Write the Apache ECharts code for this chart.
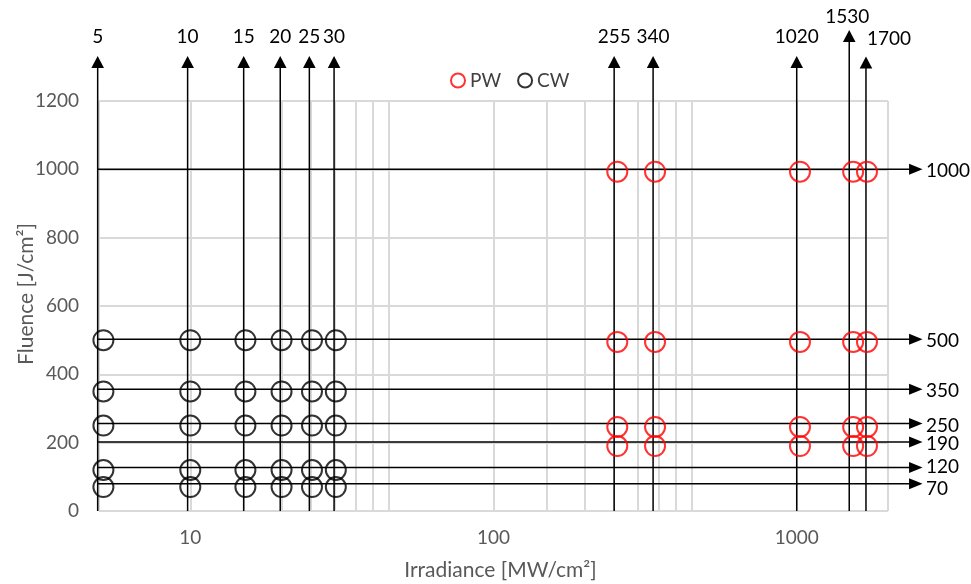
<!DOCTYPE html>
<html><head><meta charset="utf-8">
<script src="https://cdn.jsdelivr.net/npm/echarts@6/dist/echarts.min.js"></script>
<style>html,body{margin:0;padding:0;background:#fff}#c{width:971px;height:584px}</style>
</head><body><div id="c"></div>
<script>
// ---- data ----
const xTicks = [10, 100, 1000];
const yTicks = [0, 200, 400, 600, 800, 1000, 1200];
const gridX = [5, 10, 15, 20, 25, 30, 35, 40, 45, 100, 150, 200, 250, 300, 350, 400, 450, 1000, 2000];
const pwX = [256, 341, 1025, 1535, 1705];
const pwY = [993, 495, 246, 190];
const cwX = [5.17, 10, 15.2, 20, 25.2, 30.2];
const cwY = [500, 350, 250, 120, 70];
const vArrowX = [4.95, 9.8, 15, 19.8, 24.7, 29.8, 250, 336, 1000, 1490, 1692];
const vArrowTop = [1332, 1332, 1332, 1332, 1332, 1332, 1332, 1332, 1332, 1408, 1330];
const vArrowLabels = ['5', '10', '15', '20', '25', '30', '255', '340', '1020', '1530', '1700'];
const hArrowY = [1000, 503, 356, 256, 202, 127, 80];
const hArrowLabels = ['1000', '500', '350', '250', '190', '120', '70'];
const hArrowStart = 4.95, hArrowEnd = 2600;

// ---- styles ----
const FONT = 'Lato';
const FS = 19;
const FS_NAME = 21;
const vLabelPos = i => {
  if (vArrowLabels[i] === '1530') return [-2, -12.7];
  if (vArrowLabels[i] === '1700') return [23, -17.4];
  return [0, -19.3];
};
const hLabelDy = i => (hArrowLabels[i] === '70' ? 5 : (hArrowLabels[i] === '120' ? -0.5 : 2));

const pwData = [];
pwY.forEach(y => pwX.forEach(x => pwData.push([x, y])));
const cwData = [];
cwY.forEach(y => cwX.forEach(x => cwData.push([x, y])));

const series = [];
series.push({
  type: 'line', name: 'grid', data: [], z: 1, silent: true, animation: false,
  markLine: {
    z: 1, silent: true, animation: false, symbol: ['none', 'none'], label: { show: false },
    lineStyle: { color: '#d9d9d9', width: 2, type: 'solid' },
    emphasis: { disabled: true },
    data: gridX.map(v => ({ xAxis: v }))
  }
});
series.push({
  type: 'custom', name: 'vArrows', z: 3, silent: true, animation: false, clip: false,
  data: vArrowX.map((x, i) => [x, vArrowTop[i], i]),
  renderItem: (params, api) => {
    const x = api.value(0), top = api.value(1), i = api.value(2);
    const p0 = api.coord([x, 0]);
    const p1 = api.coord([x, top]);
    const hw = 6.3, hh = 12;
    const lp = vLabelPos(i);
    return {
      type: 'group', children: [
        { type: 'line', shape: { x1: p0[0], y1: p0[1], x2: p1[0], y2: p1[1] + hh - 1 }, style: { stroke: '#000', lineWidth: 1.5 } },
        { type: 'polygon', shape: { points: [[p1[0], p1[1]], [p1[0] - hw, p1[1] + hh], [p1[0] + hw, p1[1] + hh]] }, style: { fill: '#000' } },
        { type: 'text', x: p1[0] + lp[0], y: p1[1] + lp[1],
          style: { text: vArrowLabels[i], fill: '#000', font: FS + 'px ' + FONT, align: 'center', verticalAlign: 'middle' } }
      ]
    };
  }
});
series.push({
  type: 'custom', name: 'hArrows', z: 3, silent: true, animation: false, clip: false,
  data: hArrowY.map((y, i) => [hArrowEnd, y, i]),
  renderItem: (params, api) => {
    const xe = api.value(0), y = api.value(1), i = api.value(2);
    const p0 = api.coord([hArrowStart, y]);
    const p1 = api.coord([xe, y]);
    const hl = 13.5, hh = 5.5;
    return {
      type: 'group', children: [
        { type: 'line', shape: { x1: p0[0], y1: p0[1], x2: p1[0] - hl + 1, y2: p1[1] }, style: { stroke: '#000', lineWidth: 1.5 } },
        { type: 'polygon', shape: { points: [[p1[0], p1[1]], [p1[0] - hl, p1[1] - hh], [p1[0] - hl, p1[1] + hh]] }, style: { fill: '#000' } },
        { type: 'text', x: p1[0] + 3.5, y: p1[1] + hLabelDy(i),
          style: { text: hArrowLabels[i], fill: '#000', font: FS + 'px ' + FONT, align: 'left', verticalAlign: 'middle' } }
      ]
    };
  }
});
series.push({
  type: 'scatter', name: 'PW', data: pwData, symbol: 'circle', symbolSize: 20, z: 4, clip: false,
  itemStyle: { color: 'rgba(0,0,0,0)', borderColor: '#ff0000', borderWidth: 2 }, animation: false
});
series.push({
  type: 'scatter', name: 'CW', data: cwData, symbol: 'circle', symbolSize: 20, z: 4, clip: false,
  itemStyle: { color: 'rgba(0,0,0,0)', borderColor: '#000000', borderWidth: 2 }, animation: false
});

const chart = echarts.init(document.getElementById('c'), null, { renderer: 'canvas' });
chart.setOption({
  backgroundColor: '#fff',
  animation: false,
  textStyle: { fontFamily: FONT },
  grid: { left: 99, right: 83, top: 101, bottom: 73, containLabel: false, outerBoundsMode: 'none' },
  legend: {
    data: ['PW', 'CW'], left: 445, top: 66, icon: 'circle', itemWidth: 14, itemHeight: 14, itemGap: 16,
    textStyle: { fontSize: FS, color: '#404040', fontFamily: FONT }
  },
  xAxis: {
    type: 'log', logBase: 10, min: 5, max: 2000,
    axisLine: { show: false }, axisTick: { show: false }, splitLine: { show: false },
    axisLabel: {
      margin: 17, color: '#595959', fontSize: FS, fontFamily: FONT,
      formatter: v => { const t = xTicks.find(k => Math.abs(k - v) / k < 1e-6); return t ? String(t) : ''; }
    },
    name: 'Irradiance [MW/cm²]', nameLocation: 'middle', nameGap: 49, nameMoveOverlap: false,
    nameTextStyle: { fontSize: FS_NAME, color: '#595959', fontFamily: FONT, padding: [0, 0, 0, 14] }
  },
  yAxis: {
    type: 'value', min: yTicks[0], max: yTicks[yTicks.length - 1], interval: 200,
    axisLine: { show: false }, axisTick: { show: false },
    splitLine: { lineStyle: { color: '#d9d9d9', width: 2 } },
    axisLabel: { margin: 20, color: '#595959', fontSize: FS, fontFamily: FONT, formatter: v => String(v) },
    name: 'Fluence [J/cm²]', nameLocation: 'middle', nameGap: 62, nameMoveOverlap: false,
    nameTextStyle: { fontSize: FS_NAME, color: '#595959', fontFamily: FONT, padding: [0, 0, 0, 24] }
  },
  series: series
});
</script>
</body></html>
